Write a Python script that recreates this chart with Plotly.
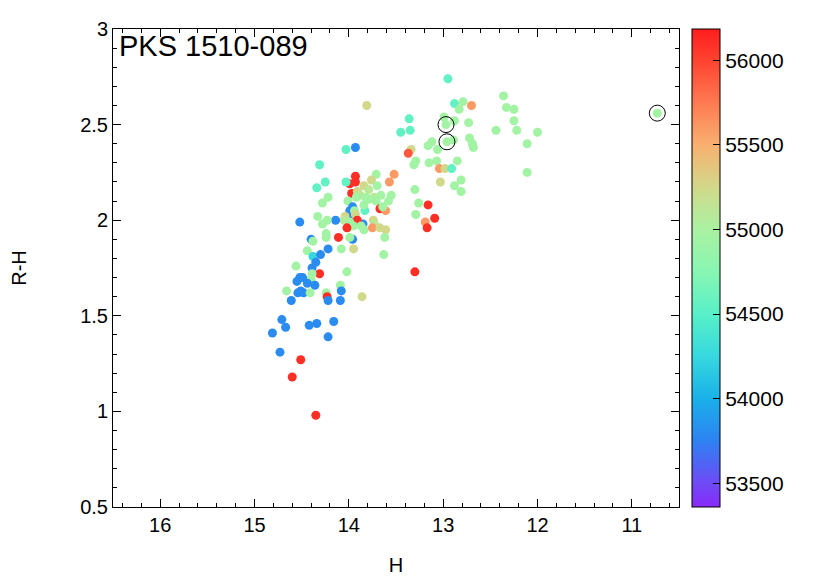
import plotly.graph_objects as go

# H magnitude, R-H colour and MJD (colour of each dot)
H = [12.95, 12.88, 12.79, 12.83, 12.70, 13.36, 12.99, 12.97, 12.88, 12.73,
     13.45, 13.35, 12.44, 12.96, 12.89, 13.12, 13.16, 13.06, 12.72, 12.69,
     12.68, 13.34, 13.37, 13.29, 13.31, 13.15, 13.07, 12.85, 13.04, 12.98,
     12.91, 12.36, 12.33, 12.25, 12.25, 12.22, 12.00, 12.11, 12.11, 10.73,
     13.30, 13.03, 12.88, 12.81, 12.81, 13.26, 13.16, 13.29, 13.19, 13.09,
     13.17, 13.30, 14.03, 13.93, 14.31, 14.25, 14.34, 14.22, 14.28, 13.93,
     13.99, 13.93, 14.03, 13.97, 13.71, 13.76, 13.84, 13.79, 13.70, 13.52,
     13.57, 13.91, 13.88, 13.92, 14.01, 13.82, 13.73, 13.78, 13.66, 13.55,
     13.71, 13.58, 13.83, 13.84, 13.99, 13.96, 13.97, 13.94, 13.93, 13.67,
     13.61, 13.85, 13.74, 13.73, 13.64, 14.04, 14.05, 13.91, 13.99, 13.95,
     14.01, 13.87, 13.84, 14.02, 13.75, 13.67, 13.61, 13.62, 13.96, 13.99,
     14.11, 14.14, 14.08, 13.95, 13.63, 14.02, 14.09, 14.08, 13.86, 14.09,
     14.52, 14.33, 14.28, 14.23, 14.24, 14.24, 14.40, 14.38, 14.22, 14.44,
     14.38, 14.30, 14.35, 14.56, 14.39, 14.31, 14.39, 14.40, 14.52, 14.55,
     14.49, 14.44, 14.36, 14.54, 14.51, 14.48, 14.66, 14.41, 14.61, 14.24,
     14.23, 14.22, 14.71, 14.67, 14.81, 14.42, 14.34, 14.16, 14.22, 14.73,
     14.51, 14.60, 14.35, 13.81]

RH = [2.74, 2.61, 2.62, 2.58, 2.60, 2.53, 2.54, 2.50, 2.52, 2.51,
      2.46, 2.47, 2.47, 2.41, 2.42, 2.41, 2.39, 2.37, 2.43, 2.40,
      2.38, 2.37, 2.35, 2.31, 2.29, 2.30, 2.31, 2.31, 2.27, 2.27,
      2.27, 2.65, 2.59, 2.58, 2.52, 2.47, 2.46, 2.40, 2.25, 2.56,
      2.16, 2.20, 2.18, 2.21, 2.15, 2.09, 2.08, 2.03, 1.99, 2.01,
      1.96, 1.73, 2.37, 2.38, 2.29, 2.20, 2.17, 2.12, 2.09, 2.23,
      2.19, 2.20, 2.20, 2.14, 2.24, 2.21, 2.18, 2.16, 2.18, 2.24,
      2.20, 2.15, 2.13, 2.12, 2.10, 2.12, 2.12, 2.11, 2.13, 2.13,
      2.10, 2.10, 2.05, 2.08, 2.05, 2.07, 2.03, 2.05, 2.03, 2.06,
      2.05, 1.98, 2.00, 1.98, 2.07, 2.02, 2.00, 2.00, 1.99, 1.97,
      1.96, 1.97, 1.95, 1.96, 1.96, 1.96, 1.95, 1.91, 1.90, 1.91,
      1.91, 2.00, 1.85, 1.85, 1.82, 1.73, 1.66, 1.63, 1.60, 1.58,
      1.99, 2.02, 1.98, 2.00, 1.93, 1.91, 1.90, 1.89, 1.85, 1.84,
      1.81, 1.82, 1.78, 1.76, 1.75, 1.72, 1.72, 1.69, 1.70, 1.68,
      1.70, 1.67, 1.66, 1.62, 1.63, 1.62, 1.63, 1.62, 1.58, 1.62,
      1.60, 1.58, 1.48, 1.44, 1.41, 1.45, 1.46, 1.47, 1.39, 1.31,
      1.27, 1.18, 0.98, 2.60]

MJD = [54550, 54550, 54950, 54950, 55600, 54550, 54950, 54950, 54950, 54950,
       54550, 54550, 54950, 54950, 54950, 54950, 54950, 54950, 54950, 54950,
       54950, 55250, 55900, 54950, 54950, 54950, 54950, 54950, 55600, 55250,
       54550, 54950, 54950, 54950, 54950, 54950, 54950, 54950, 54950, 54950,
       54950, 55250, 54950, 54950, 54950, 54950, 56100, 54950, 55600, 56100,
       56100, 56100, 54550, 53800, 54550, 54550, 54550, 54950, 54950, 56100,
       56100, 56100, 54550, 56100, 54950, 55250, 55250, 55100, 54950, 55600,
       55600, 55250, 55100, 54950, 54950, 54950, 55100, 54950, 54950, 54950,
       54950, 54950, 54550, 54950, 53800, 53800, 53800, 54950, 55250, 56100,
       55600, 53800, 55250, 55100, 54950, 55250, 55100, 56100, 54950, 54950,
       54950, 54950, 54950, 56100, 55600, 55250, 55250, 54950, 53800, 54950,
       56100, 53800, 54950, 55250, 54950, 54950, 54950, 53800, 55250, 53800,
       53800, 54950, 54950, 54950, 54950, 54950, 53800, 54950, 53800, 54950,
       54250, 53800, 53800, 54950, 53800, 56100, 54950, 54950, 53800, 53800,
       53800, 53800, 53800, 53800, 53800, 53800, 54950, 54950, 53800, 54950,
       56100, 53800, 53800, 53800, 53800, 53800, 53800, 53800, 53800, 53800,
       56100, 56100, 56100, 55250]

# the three points marked with open circles
circled_H = [12.97, 12.96, 10.73]
circled_RH = [2.50, 2.41, 2.56]

mjd_min, mjd_max = 53360, 56185
cbar_ticks = [53500, 54000, 54500, 55000, 55500, 56000]

rainbow = [
    [0.0, "#8a2af8"], [0.05, "#6e4af6"], [0.138, "#2e82f2"], [0.2265, "#1ab0e8"],
    [0.315, "#36d8e0"], [0.4035, "#58f0c8"], [0.492, "#88f6b2"], [0.58, "#aaf2a2"],
    [0.669, "#d2d88a"], [0.757, "#f8b070"], [0.845, "#ff7a52"], [0.935, "#ff4230"],
    [1.0, "#ff1e1e"],
]

FONT = "Liberation Sans, Arial, sans-serif"

fig = go.Figure()
fig.add_trace(go.Scatter(
    x=H, y=RH, mode="markers",
    marker=dict(
        size=9, color=MJD, colorscale=rainbow, cmin=mjd_min, cmax=mjd_max,
        line=dict(width=0),
        colorbar=dict(
            x=1.023, xanchor="left", xpad=0, y=0, yanchor="bottom", len=1, ypad=0,
            thickness=28, outlinewidth=1, outlinecolor="black",
            tickvals=cbar_ticks, tickformat="d", tickprefix=" ",
            ticks="inside", ticklen=7, tickcolor="black",
            tickfont=dict(size=21, color="black", family=FONT),
        ),
    ),
    showlegend=False,
))
fig.add_trace(go.Scatter(
    x=circled_H, y=circled_RH, mode="markers",
    marker=dict(symbol="circle-open", size=16, color="black", line=dict(width=1)),
    showlegend=False,
))

axis_style = dict(
    showline=True, linecolor="black", linewidth=1, mirror="ticks",
    ticks="inside", ticklen=8, tickcolor="black", showgrid=False, zeroline=False,
    tickfont=dict(size=20, color="black", family=FONT),
)
fig.update_xaxes(range=[16.5, 10.5], dtick=1,
                 minor=dict(ticks="inside", ticklen=4, dtick=0.2, tickcolor="black"),
                 title=dict(text="H", font=dict(size=20, color="black", family=FONT), standoff=22),
                 **axis_style)
fig.update_yaxes(range=[0.5, 3], dtick=0.5,
                 minor=dict(ticks="inside", ticklen=4, dtick=0.1, tickcolor="black"),
                 title=dict(text="R-H", font=dict(size=20, color="black", family=FONT), standoff=58),
                 **axis_style)

fig.add_annotation(text="PKS 1510-089", xref="paper", yref="paper", x=0, y=1,
                   xanchor="left", yanchor="top", xshift=4, yshift=1, showarrow=False,
                   font=dict(size=29, color="black", family=FONT))

# page body adds 8px, so the figure is 8px smaller and margins shifted
fig.update_layout(
    width=822, height=573,
    margin=dict(l=105, r=151, t=21, b=74, autoexpand=False),
    plot_bgcolor="white", paper_bgcolor="white",
)

fig.write_html("out.html")
